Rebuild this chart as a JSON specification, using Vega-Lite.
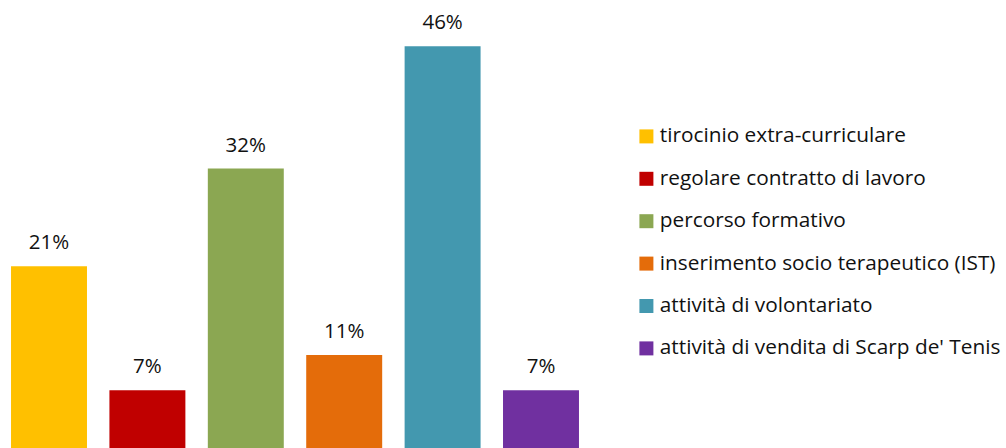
{
  "$schema": "https://vega.github.io/schema/vega-lite/v6.json",
  "width": 590,
  "height": 451,
  "padding": 0,
  "autosize": {"type": "pad"},
  "background": "white",
  "config": {"view": {"stroke": null}, "font": "Open Sans"},
  "data": {"values": [
    {"categoria": "tirocinio extra-curriculare", "valore": 21, "etichetta": "21%"},
    {"categoria": "regolare contratto di lavoro", "valore": 6.9, "etichetta": "7%"},
    {"categoria": "percorso formativo", "valore": 32.1, "etichetta": "32%"},
    {"categoria": "inserimento socio terapeutico (IST)", "valore": 10.9, "etichetta": "11%"},
    {"categoria": "attività di volontariato", "valore": 46, "etichetta": "46%"},
    {"categoria": "attività di vendita di Scarp de' Tenis", "valore": 6.9, "etichetta": "7%"}
  ]},
  "encoding": {
    "x": {"field": "categoria", "type": "nominal", "sort": null,
      "scale": {"paddingInner": 0.228, "paddingOuter": 0.112}, "axis": null},
    "y": {"field": "valore", "type": "quantitative", "scale": {"domain": [0, 51.25], "nice": false, "zero": true}, "axis": null}
  },
  "layer": [
    {"mark": {"type": "bar"},
     "encoding": {"color": {"field": "categoria", "type": "nominal", "sort": null,
        "scale": {"range": ["#FFC000", "#C00000", "#8BA752", "#E46C0A", "#4398AF", "#7030A0"]},
        "legend": {"title": null, "orient": "none", "legendX": 636, "legendY": 126,
          "symbolType": "square", "symbolSize": 196, "symbolStrokeWidth": 0, "symbolOpacity": 1,
          "labelFont": "Open Sans", "labelFontSize": 20.8, "labelColor": "#111111",
          "labelLimit": 500, "rowPadding": 20.4, "labelOffset": 3, "padding": 0}}}},
    {"mark": {"type": "text", "baseline": "alphabetic", "dy": -17, "font": "Open Sans", "fontSize": 20.5, "color": "#111111"},
     "encoding": {"text": {"field": "etichetta"}}}
  ]
}
